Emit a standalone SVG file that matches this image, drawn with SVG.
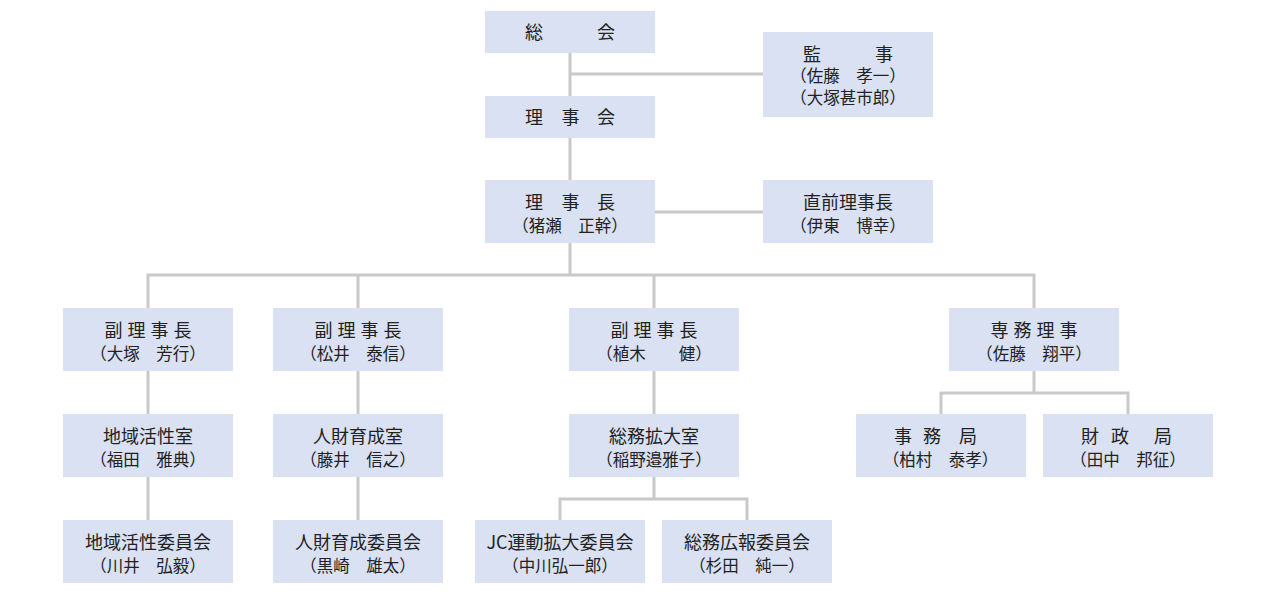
<svg xmlns="http://www.w3.org/2000/svg" width="1276" height="595" viewBox="0 0 1276 595">
<style>
.box{fill:#d9e1f2}
.t1{font-family:"Noto Sans CJK JP","Noto Sans",sans-serif;font-size:18px;fill:#222;text-anchor:middle}
.t2{font-family:"Noto Sans CJK JP","Noto Sans",sans-serif;font-size:16.5px;fill:#222;text-anchor:middle}
.conn{fill:none;stroke:#c9c9c9;stroke-width:3;stroke-linejoin:miter;stroke-linecap:butt}
</style>
<rect width="1276" height="595" fill="#ffffff"/>
<g id="connectors" class="conn">
<path d="M570 53V96M570 138V180M570 243V275M570 74H763M655 212H763"/>
<path d="M148 308V275H1034V308M358 275V308M654 275V308"/>
<path d="M148 371V414M148 477V520M358 371V414M358 477V520"/>
<path d="M654 371V414M654 477V499M560 520V499H747V520"/>
<path d="M1034 371V393M941 414V393H1128V414"/>
</g>
<g id="n-soukai"><rect class="box" x="485" y="11" width="170" height="42"/><text class="t1" x="534 606" y="39.3">総会</text></g>
<g id="n-kanji"><rect class="box" x="763" y="32" width="170" height="85"/><text class="t1" x="812 884" y="60.8">監事</text><text class="t2" x="848" y="82.3">（佐藤　孝一）</text><text class="t2" x="848" y="103.8">（大塚甚市郎）</text></g>
<g id="n-rijikai"><rect class="box" x="485" y="96" width="170" height="42"/><text class="t1" x="534 570.5 606" y="124.3">理事会</text></g>
<g id="n-rijicho"><rect class="box" x="485" y="180" width="170" height="63"/><text class="t1" x="534 570.5 606" y="208.8">理事長</text><text class="t2" x="570" y="232.3">（猪瀬　正幹）</text></g>
<g id="n-chokuzen"><rect class="box" x="763" y="180" width="170" height="63"/><text class="t1" x="848" y="208.8">直前理事長</text><text class="t2" x="848" y="232.3">（伊東　博幸）</text></g>
<g id="n-fuku1"><rect class="box" x="63" y="308" width="170" height="63"/><text class="t1" x="113.5 136.5 159.5 182.5" y="336.8">副理事長</text><text class="t2" x="148" y="360.3">（大塚　芳行）</text></g>
<g id="n-fuku2"><rect class="box" x="273" y="308" width="170" height="63"/><text class="t1" x="323.5 346.5 369.5 392.5" y="336.8">副理事長</text><text class="t2" x="358" y="360.3">（松井　泰信）</text></g>
<g id="n-fuku3"><rect class="box" x="569" y="308" width="170" height="63"/><text class="t1" x="619.5 642.5 665.5 688.5" y="336.8">副理事長</text><text class="t2" x="654" y="360.3">（植木　　健）</text></g>
<g id="n-senmu"><rect class="box" x="949" y="308" width="170" height="63"/><text class="t1" x="999.5 1022.5 1045.5 1068.5" y="336.8">専務理事</text><text class="t2" x="1034" y="360.3">（佐藤　翔平）</text></g>
<g id="n-chiiki-shitsu"><rect class="box" x="63" y="414" width="170" height="63"/><text class="t1" x="148" y="442.8">地域活性室</text><text class="t2" x="148" y="466.3">（福田　雅典）</text></g>
<g id="n-jinzai-shitsu"><rect class="box" x="273" y="414" width="170" height="63"/><text class="t1" x="358" y="442.8">人財育成室</text><text class="t2" x="358" y="466.3">（藤井　信之）</text></g>
<g id="n-soumu-shitsu"><rect class="box" x="569" y="414" width="170" height="63"/><text class="t1" x="654" y="442.8">総務拡大室</text><text class="t2" x="654" y="466.3">（稲野邉雅子）</text></g>
<g id="n-jimukyoku"><rect class="box" x="856" y="414" width="170" height="63"/><text class="t1" x="903 932 968" y="442.8">事務局</text><text class="t2" x="940.5" y="466.3">（柏村　泰孝）</text></g>
<g id="n-zaiseikyoku"><rect class="box" x="1043" y="414" width="170" height="63"/><text class="t1" x="1090 1120 1163" y="442.8">財政局</text><text class="t2" x="1128" y="466.3">（田中　邦征）</text></g>
<g id="n-chiiki-iinkai"><rect class="box" x="63" y="520" width="170" height="63"/><text class="t1" x="148" y="548.8">地域活性委員会</text><text class="t2" x="148" y="572.3">（川井　弘毅）</text></g>
<g id="n-jinzai-iinkai"><rect class="box" x="273" y="520" width="170" height="63"/><text class="t1" x="358" y="548.8">人財育成委員会</text><text class="t2" x="358" y="572.3">（黒崎　雄太）</text></g>
<g id="n-jc-iinkai"><rect class="box" x="475" y="520" width="170" height="63"/><text class="t1" x="560" y="548.8">JC運動拡大委員会</text><text class="t2" x="560" y="572.3">（中川弘一郎）</text></g>
<g id="n-soumu-iinkai"><rect class="box" x="662" y="520" width="170" height="63"/><text class="t1" x="747" y="548.8">総務広報委員会</text><text class="t2" x="747" y="572.3">（杉田　純一）</text></g>
</svg>
